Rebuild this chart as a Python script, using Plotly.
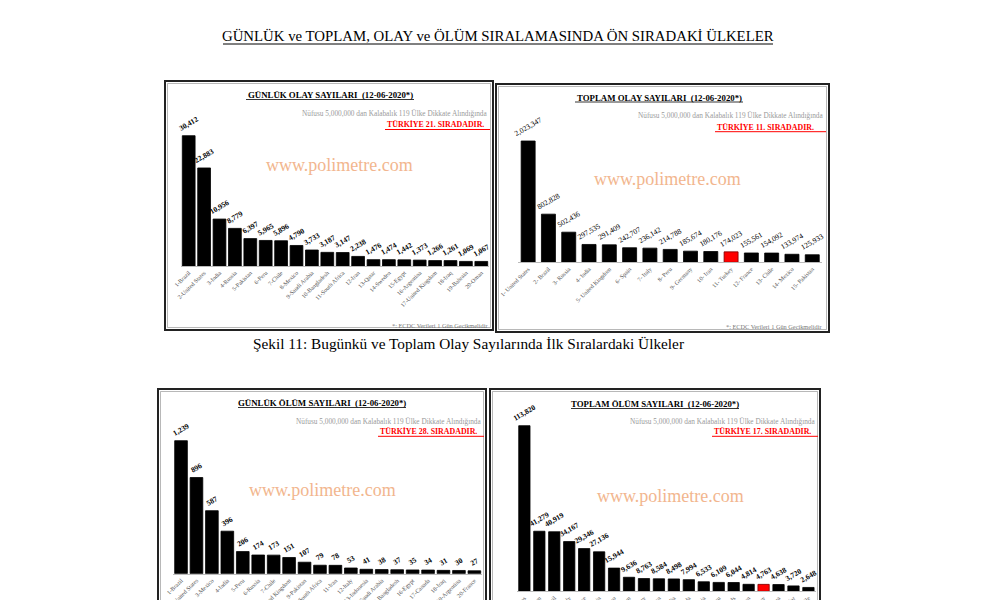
import plotly.graph_objects as go

W, H = 1000, 600
SERIF = "Liberation Serif"
OFF = 8  # page body margin

# ---------------- DATA ----------------
daily_cases_countries = ["1-Brazil", "2-United States", "3-India", "4-Russia", "5-Pakistan", "6-Peru",
                         "7-Chile", "8-Mexico", "9-Saudi Arabia", "10-Bangladesh", "11-South Africa",
                         "12-Iran", "13-Qatar", "14-Sweden", "15-Egypt", "16-Argentina",
                         "17-United Kingdom", "18-Iraq", "19-Bahrain", "20-Oman"]
daily_cases_values = [30412, 22883, 10956, 8779, 6397, 5965, 5896, 4790, 3733, 3187, 3147,
                      2238, 1476, 1474, 1442, 1373, 1266, 1261, 1069, 1067]

total_cases_countries = ["1- United States", "2- Brazil", "3- Russia", "4- India", "5- United Kingdom",
                         "6- Spain", "7- Italy", "8- Peru", "9- Germany", "10- Iran", "11- Turkey",
                         "12- France", "13- Chile", "14- Mexico", "15- Pakistan"]
total_cases_values = [2023347, 802828, 502436, 297535, 291409, 242707, 236142, 214788, 185674,
                      180176, 174023, 155561, 154092, 133974, 125933]

daily_deaths_countries = ["1-Brazil", "2-United States", "3-Mexico", "4-India", "5-Peru", "6-Russia",
                          "7-Chile", "8-United Kingdom", "9-Pakistan", "10-South Africa", "11-Iran",
                          "12-Italy", "13-Indonesia", "14-Saudi Arabia", "15-Bangladesh", "16-Egypt",
                          "17-Canada", "18-Iraq", "19-Argentina", "20-France"]
daily_deaths_values = [1239, 896, 587, 396, 206, 174, 173, 151, 107, 79, 78, 53, 41, 38, 37, 35,
                       34, 31, 30, 27]

total_deaths_countries = ["1- United States", "2- United Kingdom", "3- Brazil", "4- Italy", "5- France",
                          "6- Spain", "7- Mexico", "8- Belgium", "9- Germany", "10- Iran", "11- India",
                          "12- Canada", "13- Russia", "14- Peru", "15- Netherlands", "16- Sweden",
                          "17- Turkey", "18- China", "19- Ecuador", "20- Chile"]
total_deaths_values = [113820, 41279, 40919, 34167, 29346, 27136, 15944, 9636, 8763, 8584, 8498,
                       7994, 6533, 6109, 6044, 4814, 4763, 4638, 3720, 2648]

titles = ["GÜNLÜK OLAY SAYILARI  (12-06-2020*)", "TOPLAM OLAY SAYILARI  (12-06-2020*)",
          "GÜNLÜK ÖLÜM SAYILARI  (12-06-2020*)", "TOPLAM ÖLÜM SAYILARI  (12-06-2020*)"]
ranks = ["TÜRKİYE 21. SIRADADIR.", "TÜRKİYE 11. SIRADADIR.",
         "TÜRKİYE 28. SIRADADIR.", "TÜRKİYE 17. SIRADADIR."]
subtitle = "Nüfusu 5,000,000 dan Kalabalık 119 Ülke Dikkate Alındığında"
footnote = "*: ECDC Verileri 1 Gün Gecikmelidir"
watermark = "www.polimetre.com"
main_title = "GÜNLÜK ve TOPLAM, OLAY ve ÖLÜM SIRALAMASINDA ÖN SIRADAKİ ÜLKELER"
caption = "Şekil 11: Bugünkü ve Toplam Olay Sayılarında İlk Sıralardaki Ülkeler"

# ---------------- LAYOUT HELPERS ----------------
def px_x(x):
    return (x - OFF) / W

def px_y(y):
    return 1 - (y - OFF) / H

panels = [
    dict(cats=daily_cases_countries, vals=daily_cases_values, bold=True,
         xdom=(181, 489), width=0.83, base=266, top=88, bartop=135.7,
         box=(165, 81, 493, 330), title_xy=(330, 95), sub_xy=(490, 113),
         red_xy=(385, 124.5), red_end=490, wm_xy=(339, 165), foot_xy=(490, 325)),
    dict(cats=total_cases_countries, vals=total_cases_values, bold=False,
         xdom=(518, 822.4), width=0.69, base=262.3, top=88, bartop=141,
         box=(496, 84, 829, 332), title_xy=(659, 97.5), sub_xy=(826, 115),
         red_xy=(715, 126.7), red_end=826, wm_xy=(667, 179), foot_xy=(824, 326.5)),
    dict(cats=daily_deaths_countries, vals=daily_deaths_values, bold=True,
         xdom=(173.3, 482.1), width=0.82, base=573.7, top=395, bartop=440.7,
         box=(158, 389, 486, 640), title_xy=(322, 403), sub_xy=(484, 421),
         red_xy=(378, 431.3), red_end=484, wm_xy=(322.5, 490), foot_xy=None),
    dict(cats=total_deaths_countries, vals=total_deaths_values, bold=True,
         xdom=(516.9, 815.9), width=0.755, base=591.3, top=395, bartop=425.7,
         box=(490, 389, 820, 640), title_xy=(655, 404), sub_xy=(818, 421),
         red_xy=(712, 431.3), red_end=818, wm_xy=(670, 496), foot_xy=None),
]

fig = go.Figure()
shapes = []
annotations = []
layout_axes = {}

for i, p in enumerate(panels):
    n = i + 1
    xa = "x" if n == 1 else f"x{n}"
    ya = "y" if n == 1 else f"y{n}"
    colors = ["#ff0000" if "Turkey" in c else "#000000" for c in p["cats"]]
    line_colors = ["#7a0000" if "Turkey" in c else "#000000" for c in p["cats"]]
    texts = [f"{v:,}" for v in p["vals"]]
    if p["bold"]:
        texts = [f"<b>{t}</b>" for t in texts]
    fig.add_trace(go.Bar(
        x=p["cats"], y=p["vals"], xaxis=xa, yaxis=ya,
        marker=dict(color=colors, line=dict(color=line_colors, width=0.8)),
        width=p["width"],
        text=texts, textposition="outside", textangle=-30,
        constraintext="none", cliponaxis=False,
        textfont=dict(family=SERIF, size=7.5, color="#000000"),
        showlegend=False, hoverinfo="x+y",
    ))
    vmax = max(p["vals"])
    yr = vmax * (p["base"] - p["top"]) / (p["base"] - p["bartop"])
    xkey = "xaxis" if n == 1 else f"xaxis{n}"
    ykey = "yaxis" if n == 1 else f"yaxis{n}"
    layout_axes[xkey] = dict(
        domain=[px_x(p["xdom"][0]), px_x(p["xdom"][1])], anchor=ya,
        type="category", tickangle=-45, showgrid=False, zeroline=False,
        showline=True, linecolor="#bbbbbb", linewidth=1, ticks="",
        automargin=False,
        tickfont=dict(family=SERIF, size=6, color="#555555"),
    )
    layout_axes[ykey] = dict(
        domain=[px_y(p["base"]), px_y(p["top"])], anchor=xa,
        range=[0, yr], visible=False, showgrid=False, zeroline=False,
        automargin=False,
    )

    # panel border (double frame)
    x0, y0, x1, y1 = p["box"]
    shapes.append(dict(type="rect", xref="paper", yref="paper",
                       x0=px_x(x0), x1=px_x(x1), y0=px_y(y1), y1=px_y(y0),
                       line=dict(color="#222222", width=2), fillcolor="rgba(0,0,0,0)"))
    shapes.append(dict(type="rect", xref="paper", yref="paper",
                       x0=px_x(x0 + 2.5), x1=px_x(x1 - 2.5), y0=px_y(y1 - 2.5), y1=px_y(y0 + 2.5),
                       line=dict(color="#888888", width=0.6), fillcolor="rgba(0,0,0,0)"))

    # panel title (underlined)
    tx, ty = p["title_xy"]
    annotations.append(dict(x=px_x(tx), y=px_y(ty), xref="paper", yref="paper",
                            text=f"<b>{titles[i]}</b>", showarrow=False,
                            xanchor="center", yanchor="middle",
                            font=dict(family=SERIF, size=8.8, color="#000000")))
    shapes.append(dict(type="line", xref="paper", yref="paper",
                       x0=px_x(tx - 84), x1=px_x(tx + 84), y0=px_y(ty + 4.5), y1=px_y(ty + 4.5),
                       line=dict(color="#000000", width=0.8)))
    # subtitle
    sx, sy = p["sub_xy"]
    annotations.append(dict(x=px_x(sx), y=px_y(sy), xref="paper", yref="paper",
                            text=subtitle, showarrow=False, xanchor="right", yanchor="middle",
                            font=dict(family=SERIF, size=7.3, color="#9a9a9a")))
    # red rank text + underline
    rx, ry = p["red_xy"]
    annotations.append(dict(x=px_x(rx), y=px_y(ry), xref="paper", yref="paper",
                            text=f"<b>{ranks[i]}</b>", showarrow=False, xanchor="left",
                            yanchor="middle",
                            font=dict(family=SERIF, size=7.9, color="#ff0000")))
    shapes.append(dict(type="line", xref="paper", yref="paper",
                       x0=px_x(rx), x1=px_x(p["red_end"]), y0=px_y(ry + 5), y1=px_y(ry + 5),
                       line=dict(color="#ff0000", width=1)))
    # watermark
    wx, wy = p["wm_xy"]
    annotations.append(dict(x=px_x(wx), y=px_y(wy), xref="paper", yref="paper",
                            text=watermark, showarrow=False, xanchor="center", yanchor="middle",
                            font=dict(family=SERIF, size=18, color="#f2b68e")))
    # footnote
    if p["foot_xy"]:
        fx, fy = p["foot_xy"]
        annotations.append(dict(x=px_x(fx), y=px_y(fy), xref="paper", yref="paper",
                                text=footnote, showarrow=False, xanchor="right", yanchor="middle",
                                font=dict(family=SERIF, size=6.3, color="#777777")))

# main title & caption
annotations.append(dict(x=px_x(498), y=px_y(36), xref="paper", yref="paper",
                        text=main_title, showarrow=False, xanchor="center", yanchor="middle",
                        font=dict(family=SERIF, size=14.8, color="#000000")))
shapes.append(dict(type="line", xref="paper", yref="paper",
                   x0=px_x(223), x1=px_x(773), y0=px_y(44), y1=px_y(44),
                   line=dict(color="#000000", width=1)))
annotations.append(dict(x=px_x(468), y=px_y(343), xref="paper", yref="paper",
                        text=caption, showarrow=False, xanchor="center", yanchor="middle",
                        font=dict(family=SERIF, size=15.3, color="#000000")))

fig.update_layout(
    width=W, height=H,
    margin=dict(l=0, r=0, t=0, b=0, pad=0, autoexpand=False),
    paper_bgcolor="white", plot_bgcolor="white",
    shapes=shapes, annotations=annotations,
    showlegend=False,
    **layout_axes,
)

fig.write_html("out.html")
